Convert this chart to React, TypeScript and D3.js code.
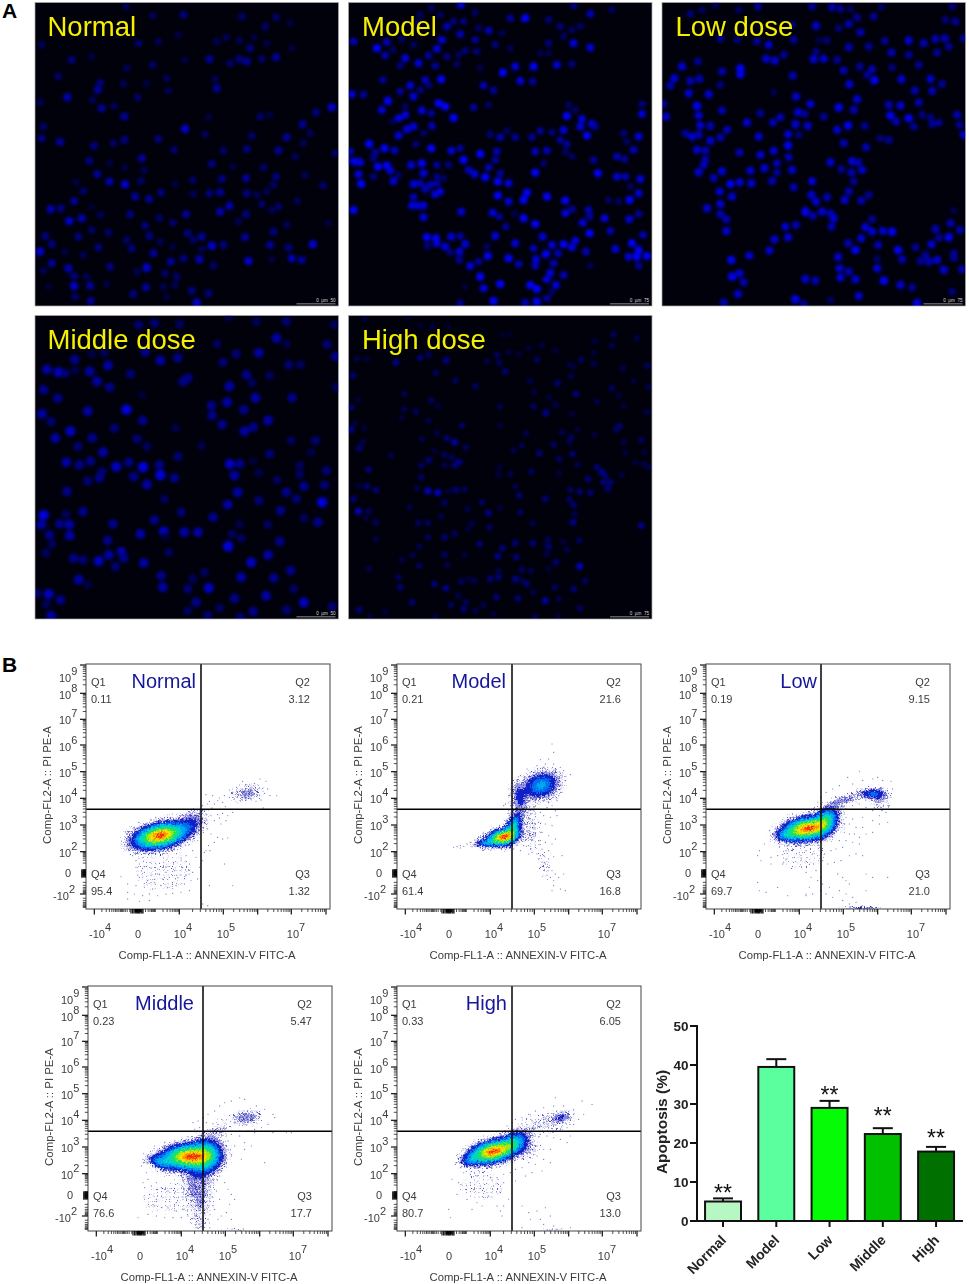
import React from "react";
import * as d3 from "d3";

type N = [number, number, number];
type P = [number, number];
type G = [number, number, number, number, number, number];

const FONT = "'Liberation Sans', Arial, sans-serif";

const normalNuclei: N[] = [[378,20,.5],[550,45,.7],[725,50,.6],[828,52,.6],[870,70,.4],[795,80,.6],[458,47,.5],[125,135,.5],[475,125,.5],[415,130,.6],[535,105,.4],[650,125,.5],[678,113,.5],[718,122,.5],[762,112,.4],[800,130,.4],[750,145,.7],[628,178,.8],[690,190,.6],[718,178,.7],[740,185,.8],[785,177,.6],[828,172,.8],[875,145,.4],[215,180,.7],[275,170,.4],[380,205,.5],[458,195,.6],[555,180,.4],[175,230,.6],[500,235,.5],[645,238,.5],[650,265,.8],[293,270,.8],[370,252,.5],[505,272,.5],[440,250,.4],[300,250,.7],[202,292,.9],[278,300,.5],[413,293,.6],[120,307,.5],[305,325,.8],[343,318,.5],[373,350,.8],[780,350,.6],[808,345,.4],[995,322,1],[948,337,.7],[625,352,.4],[130,380,.6],[555,387,1],[907,373,.8],[125,415,.7],[180,426,.8],[282,438,.7],[340,430,.6],[373,420,.7],[475,417,.7],[615,403,.5],[755,408,.6],[860,412,.8],[930,400,.5],[910,430,.5],[522,450,.6],[670,452,.6],[740,448,.7],[835,452,.8],[885,470,.5],[1005,460,.6],[425,475,.8],[268,483,.7],[328,490,.4],[635,492,.7],[698,500,.4],[790,503,.6],[432,510,.5],[375,503,.4],[292,522,.8],[228,547,.4],[328,545,.9],[375,553,1],[422,543,.6],[578,540,.6],[665,537,.7],[738,535,.8],[828,530,.7],[915,525,.5],[525,552,.4],[820,555,.6],[968,557,.6],[250,573,.6],[483,578,.7],[405,590,.8],[447,597,.8],[580,583,.5],[628,580,.7],[660,577,.8],[740,580,.7],[770,585,.5],[800,575,.5],[222,603,.8],[892,603,.5],[152,628,.9],[182,625,.7],[274,620,.3],[660,635,.9],[688,618,.9],[785,612,.6],[815,630,.5],[835,620,.6],[302,645,.5],[390,643,.7],[558,643,.8],[738,643,.7],[208,663,1],[245,655,.9],[478,655,.6],[518,668,.6],[715,665,.5],[985,670,.4],[435,677,.7],[860,675,.5],[136,708,.7],[235,710,.7],[325,698,.6],[380,720,.6],[275,690,.6],[448,708,.7],[563,700,.7],[605,710,.8],[820,695,.7],[735,712,.8],[155,732,.7],[395,745,.7],[480,725,.5],[295,742,.7],[635,737,1],[670,735,.7],[810,735,.8],[865,743,.7],[938,733,1],[120,755,1],[195,755,.4],[250,765,.5],[605,748,.5],[460,760,.8],[518,740,.4],[580,720,.6],[745,783,1],[875,775,.9],[905,780,.8],[598,778,.9],[550,775,.7],[512,785,.8],[155,790,.8],[205,805,.9],[330,800,.7],[440,803,1],[640,797,.6],[815,778,.4],[130,812,.5],[410,815,.5],[495,820,.6],[530,830,.6],[222,828,.7],[260,830,.5],[222,858,1],[270,857,.8],[320,853,.4],[438,862,.8],[490,860,.5],[575,872,.7],[525,855,.5],[625,880,.7],[145,860,.3],[225,890,.6],[400,882,.7],[272,903,.8],[590,908,1],[500,890,.4]];
const modelNuclei: N[] = [[347,15,.9],[258,25,.5],[225,45,.5],[285,45,.5],[390,38,.5],[540,55,1],[495,55,.7],[685,18,.6],[735,42,.8],[800,30,.5],[610,60,.6],[325,65,.6],[355,65,.6],[220,70,.5],[305,80,.8],[430,92,.8],[645,80,.6],[705,80,.5],[680,90,.5],[400,85,.5],[25,125,.8],[125,127,.8],[170,118,.5],[290,120,.9],[345,103,.8],[390,120,.7],[470,100,.4],[655,110,.5],[95,145,1],[143,150,.5],[205,135,.5],[275,147,.9],[395,155,.6],[360,152,.6],[450,135,.6],[495,145,.4],[610,130,.6],[685,130,.9],[735,143,.9],[120,167,.8],[180,175,.9],[250,167,.7],[305,170,.6],[340,165,.5],[585,160,.4],[610,160,.4],[165,197,.6],[220,190,.9],[270,198,.7],[335,193,.5],[565,200,1],[510,200,.9],[473,218,1],[635,195,.9],[680,193,.6],[405,205,.4],[525,243,.9],[562,245,.7],[240,240,.8],[288,238,1],[113,240,.7],[415,257,.8],[195,257,.9],[225,270,.6],[250,255,.6],[445,272,.7],[20,283,.9],[55,284,.7],[165,275,.7],[205,290,.9],[128,303,1],[280,310,1],[300,320,1],[890,312,.6],[110,330,.9],[385,323,.7],[430,315,.5],[180,320,.5],[230,332,.9],[670,315,.5],[690,330,.5],[665,348,1],[890,342,.9],[180,345,.9],[160,355,.9],[258,340,.7],[325,354,1],[710,357,.9],[140,365,.4],[260,378,.8],[205,380,.9],[185,388,.9],[705,380,.9],[740,372,.9],[750,380,.7],[485,393,.5],[435,403,.6],[465,412,.8],[510,412,.7],[560,412,.7],[585,393,.7],[620,397,.6],[160,407,.9],[235,400,.5],[725,407,1],[655,390,.9],[835,400,.6],[880,410,.9],[645,420,.7],[665,432,.7],[845,425,.5],[72,432,1],[212,433,.6],[118,445,1],[258,445,1],[148,452,.8],[90,458,.7],[318,452,.9],[345,445,.7],[405,462,1],[455,455,.8],[570,455,.8],[605,452,.8],[660,455,.5],[815,470,.8],[865,450,.8],[15,455,.8],[30,485,1],[5,482,.9],[45,487,.9],[85,475,.6],[355,480,1],[450,480,.7],[680,470,.5],[745,480,.7],[838,478,.7],[230,490,1],[198,495,.9],[275,495,.7],[310,495,.6],[98,500,1],[125,497,1],[135,512,.9],[430,503,.8],[595,490,.5],[370,510,.8],[235,520,.9],[570,518,1],[388,522,.9],[465,520,.7],[160,525,.5],[758,520,1],[815,530,.9],[840,530,.8],[420,532,1],[40,523,.9],[85,530,.6],[145,543,.9],[275,530,.6],[295,535,.5],[458,545,1],[490,550,.9],[885,537,.9],[48,552,1],[205,552,.9],[255,555,.8],[225,550,.8],[275,550,.7],[855,560,.5],[240,568,.8],[285,575,.9],[270,583,.9],[458,587,1],[545,578,1],[605,590,1],[880,580,.9],[205,592,.8],[535,600,1],[790,600,.5],[660,602,1],[853,600,1],[490,605,.9],[820,605,.5],[200,617,.9],[218,617,.9],[235,617,.9],[25,630,1],[348,635,.9],[442,638,.9],[680,628,.7],[730,630,.8],[880,642,.7],[660,640,.9],[235,652,.9],[462,650,.7],[535,655,1],[508,640,.4],[778,655,.9],[733,650,.7],[852,658,.9],[570,672,1],[712,668,.9],[482,680,.7],[733,700,1],[795,693,.8],[450,708,.9],[245,712,1],[272,715,1],[318,710,.9],[345,708,.7],[592,710,.9],[893,705,.8],[275,730,.9],[300,740,.9],[360,732,.9],[510,730,.9],[690,722,.9],[620,735,.9],[655,733,1],[680,742,.9],[860,730,1],[247,738,.6],[343,755,.9],[565,745,.8],[722,755,.8],[810,747,.9],[880,750,1],[315,757,.6],[425,740,.5],[602,762,1],[638,760,.8],[428,768,1],[490,775,1],[572,778,.9],[342,780,.7],[850,770,.9],[905,768,1],[875,770,1],[400,785,.7],[520,792,.8],[625,790,.8],[570,797,.8],[375,798,.9],[735,797,.4],[880,797,.7],[615,818,.9],[655,825,.8],[405,830,1],[605,838,.9],[465,852,1],[415,865,.9],[555,855,1],[632,855,.9],[360,860,.3],[575,867,1],[620,875,.5],[445,903,1],[575,905,1],[345,910,.7],[540,908,.8],[605,895,.7]];
const lowNuclei: N[] = [[170,15,.5],[298,20,.7],[460,20,.7],[520,22,.8],[545,27,.7],[575,28,.5],[668,22,.5],[880,20,.6],[95,42,.6],[130,30,.5],[240,30,.5],[645,50,.7],[595,53,.7],[860,60,.6],[890,65,.7],[472,78,.9],[570,72,.8],[540,85,.6],[400,75,.6],[605,97,.8],[185,115,.7],[505,122,.6],[235,120,.6],[295,125,.7],[405,120,.7],[480,120,.4],[678,123,.7],[750,122,.9],[795,130,.8],[830,117,.8],[858,115,.8],[915,115,.7],[330,135,.9],[570,142,.8],[630,140,.7],[870,140,.7],[375,165,.7],[472,155,.6],[698,158,.8],[750,165,.7],[835,158,.7],[322,177,.9],[348,182,.9],[465,178,.9],[495,177,.9],[535,180,.7],[118,185,.7],[780,195,.7],[70,200,.9],[603,200,.7],[700,203,.6],[190,215,.8],[245,205,1],[245,223,1],[555,212,.8],[640,208,.8],[625,225,.7],[402,228,.8],[47,235,.9],[122,237,.8],[95,243,.8],[728,238,.9],[815,237,.9],[647,241,1],[35,257,.8],[850,252,.7],[185,255,.6],[572,253,.9],[90,280,.9],[150,283,.9],[345,277,.4],[768,272,.8],[820,273,.8],[412,290,.9],[595,298,.9],[15,312,.7],[115,318,1],[455,312,.9],[540,323,1],[780,308,.8],[690,315,.8],[725,317,.9],[190,332,.8],[305,340,.7],[418,337,.9],[585,330,.8],[438,342,.7],[120,347,.9],[495,350,.7],[22,350,.9],[365,352,.8],[695,347,1],[750,355,1],[790,345,.6],[895,345,.8],[815,352,.6],[712,365,.8],[265,368,.9],[343,368,.8],[410,373,.9],[125,377,.9],[155,378,.8],[447,378,.9],[568,377,1],[618,378,.7],[820,372,.7],[840,368,.7],[903,375,.7],[765,380,.7],[535,390,.9],[80,400,.7],[100,410,.9],[120,405,.8],[205,390,.8],[388,403,.9],[300,410,.9],[420,405,.6],[915,405,.9],[185,413,.8],[155,423,.9],[665,415,.6],[690,420,.7],[555,430,.8],[388,437,1],[622,442,.8],[115,450,.9],[140,452,.8],[345,453,.9],[242,458,.8],[305,465,.9],[390,472,.8],[140,480,.8],[515,487,.9],[580,484,.9],[598,487,.8],[355,490,.8],[135,495,.8],[400,510,.9],[317,505,.9],[275,512,.9],[548,508,.7],[610,510,.9],[120,517,.9],[190,514,.9],[355,518,.7],[578,518,.8],[165,534,.8],[340,543,.8],[460,544,.9],[585,545,.7],[215,552,1],[243,547,.9],[278,550,.9],[405,562,.8],[183,575,.9],[570,575,.8],[220,590,.9],[458,585,.9],[505,592,.8],[630,585,.7],[558,600,.9],[608,602,.8],[185,612,.9],[472,605,.9],[145,625,.9],[440,635,1],[490,635,.9],[515,640,.8],[185,642,.8],[462,648,.8],[525,655,.9],[203,658,.8],[640,658,.7],[885,632,.4],[875,670,.8],[518,680,.8],[380,680,.9],[412,675,.8],[620,682,.9],[672,693,.9],[700,695,1],[640,695,.9],[830,687,.8],[903,690,.8],[203,693,.9],[347,718,.9],[388,712,.9],[607,715,.9],[870,712,1],[840,713,.7],[818,733,.9],[568,730,.8],[658,735,.8],[590,750,1],[332,752,.9],[718,750,1],[770,742,.7],[800,765,.7],[885,760,.7],[272,767,.9],[538,771,.9],[730,778,.8],[218,780,1],[835,780,.9],[810,785,.8],[785,783,.7],[655,777,.5],[885,773,.7],[543,805,.9],[655,805,.9],[570,815,.8],[855,810,.9],[910,808,.8],[243,820,.9],[220,830,1],[545,833,.9],[590,838,.9],[440,837,.9],[470,842,.8],[675,842,1],[255,847,.8],[725,855,.9],[760,862,.7],[238,882,.9],[600,888,.9],[880,875,.6],[410,898,1],[195,908,.8],[515,900,.5],[435,912,.7],[775,910,1]];
const middleNuclei: N[] = [[325,38,.6],[372,33,.6],[448,35,.5],[595,15,.4],[678,28,.5],[768,28,.6],[912,38,.5],[738,78,.8],[768,95,.4],[560,95,.5],[890,97,.6],[345,120,.7],[185,125,.4],[222,122,.5],[617,125,.6],[685,122,.8],[915,133,.7],[133,142,.7],[390,145,.8],[442,137,.7],[578,150,.6],[775,158,.6],[810,157,.5],[50,172,.8],[85,180,.9],[105,183,.6],[135,175,.4],[178,178,.8],[233,160,.8],[300,185,.6],[648,188,.7],[718,190,.5],[200,208,.8],[472,198,.7],[458,208,.7],[665,212,.5],[40,233,.7],[238,225,.7],[597,222,.8],[918,225,.5],[335,248,.3],[82,258,.7],[675,257,.8],[785,257,.7],[590,270,.8],[543,280,.7],[172,297,.8],[288,292,1],[640,293,.7],[35,305,.8],[545,310,.7],[62,328,.6],[337,325,.7],[713,325,.8],[575,337,.7],[252,348,.6],[435,348,.4],[668,345,.7],[120,357,.9],[642,357,.8],[186,377,.7],[75,378,.8],[320,380,.6],[782,385,.5],[855,385,.6],[143,403,.6],[350,403,.5],[513,400,.4],[218,420,.8],[842,420,.4],[718,425,.6],[443,433,.6],[108,450,.8],[180,447,.7],[295,450,.7],[147,458,.7],[258,463,.9],[338,464,1],[387,458,.7],[598,455,.9],[628,455,.7],[668,447,.3],[808,460,.5],[215,478,.6],[888,475,.6],[685,482,.4],[390,488,1],[310,493,.7],[207,497,.7],[432,497,.7],[612,490,.8],[808,487,.5],[172,507,.6],[350,517,.8],[740,503,.5],[882,518,.6],[820,522,.7],[110,538,.7],[622,540,.8],[768,540,.7],[402,560,.5],[685,565,.6],[798,560,.6],[875,570,1],[592,577,.8],[158,598,.7],[750,595,.7],[452,600,.6],[107,605,.5],[40,608,1],[548,615,.7],[820,617,.5],[372,623,.7],[33,637,.8],[88,635,.7],[117,637,.8],[248,635,.7],[628,635,.4],[712,637,.5],[862,630,.7],[400,657,.9],[462,660,.8],[503,660,.8],[330,665,.8],[57,668,.7],[118,670,.8],[605,665,.5],[632,678,.5],[405,675,.3],[232,685,.7],[748,688,.7],[65,695,.5],[593,702,1],[47,722,.5],[415,720,.5],[273,718,.8],[235,728,.8],[713,728,.8],[130,738,.7],[158,743,.6],[280,737,.7],[205,746,.9],[340,752,.8],[662,750,.9],[255,763,.6],[780,775,.7],[522,780,.5],[392,790,.7],[632,795,.8],[730,797,.7],[145,802,.8],[487,800,.5],[173,817,.4],[397,825,.8],[535,827,.9],[472,830,.6],[790,830,.5],[55,845,.9],[20,843,.6],[707,850,.8],[612,858,.7],[90,863,.7],[497,870,.7],[820,870,.9],[48,875,.5],[568,887,.5],[668,898,.7],[768,893,.6],[472,895,.5],[905,882,.6],[62,910,.8],[532,910,.6],[630,915,.6]];
const highNuclei: N[] = [[60,20,.4],[188,18,.3],[262,43,.4],[225,40,.3],[310,42,.3],[470,68,.3],[495,68,.3],[805,67,.6],[875,78,.5],[748,88,.4],[800,100,.5],[550,107,.4],[590,100,.4],[630,115,.4],[455,128,.6],[490,120,.4],[520,125,.4],[745,122,.4],[35,140,.5],[65,140,.4],[225,137,.7],[250,128,.6],[303,145,.8],[152,150,.8],[425,147,.5],[462,152,.6],[575,142,.6],[708,143,.6],[672,158,.4],[685,165,.4],[745,155,.5],[905,160,.6],[833,168,.5],[23,190,.7],[272,182,.6],[480,178,.7],[678,192,.5],[865,207,.4],[330,205,.6],[390,222,.6],[555,207,.5],[637,213,.7],[800,228,.6],[910,225,.5],[178,245,.5],[567,240,.4],[692,245,.7],[820,250,.4],[258,265,.6],[612,255,.4],[755,268,.5],[38,263,.4],[18,285,.7],[278,282,.4],[465,283,.5],[565,283,.6],[630,278,.5],[835,280,.4],[178,290,.5],[212,298,.6],[602,302,.8],[905,300,.5],[170,315,.4],[680,305,.4],[250,325,.5],[30,333,.4],[350,340,.6],[465,340,.4],[822,342,.7],[18,352,.8],[58,348,.4],[812,352,.6],[275,362,.5],[542,363,.5],[650,360,.5],[697,352,.4],[748,367,.4],[230,380,.5],[305,378,.7],[328,390,.9],[677,375,.6],[53,390,.5],[672,390,.5],[888,383,.6],[835,390,.5],[42,408,.7],[530,400,.5],[625,397,.6],[505,415,.5],[362,405,.6],[297,428,.6],[268,415,.4],[138,430,.5],[582,423,.7],[682,425,.7],[840,422,.4],[897,420,.4],[320,436,.6],[250,444,.7],[342,450,.8],[642,440,.6],[298,460,.5],[328,460,.7],[228,460,.6],[870,450,.4],[895,455,.4],[70,472,.7],[462,465,.4],[558,478,.6],[697,458,.5],[755,465,.7],[770,480,.8],[910,465,.5],[460,488,.4],[495,485,.5],[642,483,.4],[780,490,.7],[228,495,.6],[830,488,.4],[728,500,.7],[795,510,.7],[775,510,.7],[40,520,.4],[65,522,.7],[510,523,.5],[215,527,.5],[92,534,.7],[788,530,.7],[248,536,1],[278,541,1],[332,533,.7],[358,532,.6],[312,535,.4],[675,533,.6],[703,538,.7],[735,541,.7],[522,550,.7],[25,560,.7],[600,560,.7],[672,562,.6],[410,570,.6],[298,572,.6],[685,578,.7],[193,585,.5],[367,590,.5],[465,587,.4],[40,597,1],[70,597,.6],[430,602,.8],[525,600,.6],[688,605,.5],[288,613,.5],[62,618,.4],[92,630,.6],[220,632,.6],[248,632,.6],[380,633,.5],[563,633,.5],[683,630,.8],[888,640,.8],[368,650,.4],[433,645,.6],[328,665,.6],[248,675,.6],[298,675,.7],[92,680,.5],[608,683,.6],[655,688,.4],[702,685,.6],[403,695,.7],[510,692,.7],[563,693,.7],[610,703,.7],[222,703,.5],[472,708,.7],[665,712,.5],[202,728,.5],[298,727,.6],[358,728,.4],[458,732,.8],[513,735,.7],[170,742,.5],[605,725,.5],[632,750,.7],[222,760,.6],[307,758,.5],[703,762,1],[70,770,.5],[530,773,.6],[557,775,.5],[610,770,.4],[460,775,.5],[160,795,.6],[460,795,.7],[435,800,.7],[510,800,.8],[530,805,.5],[720,805,.6],[268,815,.7],[348,808,.6],[370,800,.4],[388,805,.5],[545,815,.7],[628,825,.6],[302,828,.8],[165,825,.7],[685,830,.7],[565,840,.5],[340,850,.5],[453,855,.7],[518,858,.7],[600,865,.9],[640,860,.5],[200,870,.7],[362,870,.6],[318,878,.6],[415,878,.5],[355,890,.7],[390,895,.5],[705,888,.6],[42,892,.7],[120,900,.4],[75,912,.4],[270,915,.5],[570,915,.6],[445,905,.4],[638,912,.4]];

const microNames = ["Normal", "Model", "Low dose", "Middle dose", "High dose"];
const microScaleLabels = ["0  µm  50", "0  µm  75", "0  µm  75", "0  µm  50", "0  µm  75"];
const microNuclei = [normalNuclei, modelNuclei, lowNuclei, middleNuclei, highNuclei];

// ---- Panel B: flow cytometry, events and population peaks in channel units ----
const normalEvents: P[] = [[522,345],[470,352],[505,358],[540,352],[452,370],[480,362],[495,370],[520,372],[545,375],[430,378],[440,385],[458,392],[470,378],[488,382],[505,390],[520,395],[535,388],[552,395],[572,395],[430,400],[445,405],[462,410],[478,402],[495,405],[510,412],[525,408],[415,395],[400,402],[380,395],[360,392],[395,410],[370,412],[350,425],[365,420],[385,420],[410,415],[418,428],[378,432],[355,438],[345,442],[532,432],[360,450],[375,455],[395,452],[410,448],[425,455],[440,445],[385,470],[405,480],[355,470],[352,490],[365,495],[400,462],[420,470],[375,510],[395,520],[410,525],[425,522],[385,535],[368,545],[360,560],[372,560],[415,600],[350,590],[355,565],[130,545],[128,560],[140,575],[150,590],[160,600],[175,608],[195,612],[215,615],[240,610],[262,600],[285,590],[300,575],[320,560],[335,530],[340,500],[340,470],[320,445],[300,450],[270,462],[240,472],[210,480],[180,490],[150,505],[135,525],[142,510],[165,495],[195,485],[225,475],[255,468],[285,455],[175,625],[195,635],[215,630],[240,625],[265,620],[290,610],[310,600],[330,580],[160,640],[185,650],[205,655],[230,645],[250,640],[275,640],[300,635],[320,625],[340,610],[125,660],[150,665],[175,670],[200,675],[225,665],[245,670],[270,665],[295,660],[315,650],[335,645],[125,685],[145,690],[170,695],[190,690],[215,695],[240,690],[260,688],[285,685],[310,680],[125,705],[160,712],[190,710],[370,665],[440,665],[350,720],[365,725],[385,735],[405,735],[345,700],[105,638]];
const modelEvents: P[] = [[170,550],[180,548],[190,545],[200,547],[210,540],[220,535],[232,528],[245,530],[225,548],[190,552],[240,540],[250,520],[465,240],[470,265],[455,285],[430,287],[445,300],[470,300],[490,310],[500,320],[520,332],[470,320],[440,310],[420,305],[495,335],[485,345],[505,350],[490,365],[495,385],[485,395],[470,400],[480,410],[455,415],[465,425],[475,440],[450,430],[390,315],[370,335],[360,350],[345,370],[335,395],[325,420],[335,440],[320,425],[340,425],[350,445],[370,440],[390,445],[410,440],[430,445],[375,455],[395,460],[415,458],[440,455],[460,460],[480,455],[365,475],[385,480],[405,478],[425,475],[445,480],[465,485],[375,500],[395,505],[415,510],[435,505],[455,515],[475,525],[385,520],[405,530],[425,530],[445,535],[465,540],[395,545],[415,550],[435,555],[455,560],[405,565],[420,570],[440,575],[455,585],[470,578],[495,575],[425,585],[435,595],[445,600],[455,610],[465,620],[475,630],[460,640],[470,650],[485,640],[470,665],[465,680],[490,675],[505,680],[500,630],[430,575],[380,545],[360,545],[350,555],[370,560],[395,570]];
const lowEvents: P[] = [[460,322],[425,340],[470,350],[500,345],[515,340],[530,350],[555,352],[440,360],[400,365],[380,375],[360,385],[345,400],[335,415],[325,430],[560,375],[555,400],[550,425],[540,445],[520,455],[500,440],[480,430],[460,420],[440,425],[420,435],[405,445],[385,445],[370,450],[420,460],[400,470],[440,465],[470,460],[500,470],[520,480],[545,475],[470,490],[450,490],[430,480],[445,510],[460,520],[480,510],[500,505],[430,510],[415,505],[400,530],[420,530],[440,535],[460,540],[410,550],[390,555],[375,560],[355,570],[335,575],[320,570],[300,560],[280,565],[260,555],[240,560],[220,550],[200,510],[190,500],[175,540],[160,560],[155,575],[165,590],[195,580],[215,575],[240,585],[265,580],[285,590],[195,600],[230,600],[350,590],[365,600],[385,595],[405,590],[430,575],[450,570],[470,575],[480,630],[500,640],[300,625],[315,640],[330,620],[345,640],[310,670],[320,690],[345,680],[300,690],[335,650],[350,660],[370,670],[395,630],[410,640],[420,650],[430,660],[400,680],[420,690],[440,700],[410,710],[380,700],[360,690],[155,655],[160,680],[180,685],[215,670],[245,695],[300,695],[545,640],[480,680],[430,720],[450,715],[470,725]];
const middleEvents: P[] = [[455,335],[470,340],[430,345],[410,350],[395,360],[380,375],[360,385],[345,395],[355,410],[330,405],[315,410],[335,425],[320,430],[555,385],[560,395],[530,370],[505,360],[540,415],[520,425],[500,440],[480,435],[455,435],[430,445],[420,465],[400,445],[375,440],[380,460],[405,470],[455,450],[470,470],[490,480],[470,490],[440,480],[420,490],[395,490],[530,530],[460,520],[430,510],[415,530],[405,520],[395,550],[380,560],[375,590],[395,570],[410,590],[420,610],[430,625],[440,640],[425,655],[395,640],[385,615],[400,690],[415,680],[380,670],[390,700],[360,700],[345,720],[365,725],[430,700],[180,580],[165,590],[170,605],[190,600],[205,590],[220,605],[240,615],[260,620],[185,625],[205,640],[225,635],[245,640],[265,650],[285,640],[200,660],[220,665],[240,665],[265,675],[285,670],[150,695],[180,685],[205,690],[230,695],[255,695],[280,695],[300,690],[300,620],[610,440],[595,440],[555,440],[500,430],[175,560],[160,540],[165,520],[200,480],[230,470],[260,465],[295,460],[320,455]];
const highEvents: P[] = [[475,335],[555,345],[585,355],[530,370],[500,360],[470,360],[440,365],[415,375],[395,385],[375,395],[355,400],[345,410],[560,385],[545,400],[530,415],[510,425],[490,430],[470,420],[450,415],[430,420],[410,430],[390,430],[370,425],[350,430],[330,420],[325,435],[440,395],[465,395],[510,395],[530,385],[405,405],[425,400],[385,445],[410,450],[430,445],[450,450],[470,455],[490,460],[510,470],[520,450],[400,470],[420,480],[440,490],[460,490],[400,500],[420,510],[440,520],[460,530],[415,535],[395,530],[380,520],[375,545],[355,550],[340,560],[320,565],[300,575],[280,575],[260,570],[240,570],[220,565],[200,560],[190,545],[175,535],[205,500],[235,480],[265,465],[295,455],[320,450],[345,445],[165,580],[185,590],[220,590],[250,600],[290,600],[320,590],[355,585],[385,570],[405,560],[435,555],[180,625],[210,640],[240,650],[275,630],[310,620],[335,640],[320,660],[300,660],[255,660],[225,670],[155,670],[160,695],[315,690],[310,675],[375,660],[395,680],[420,675],[445,665],[460,690],[430,700],[400,700],[440,715],[470,720],[520,725],[480,730],[375,725]];

// population peaks: centre x, centre y, spread x, spread y, tilt, height
const normalPeaks: G[] = [[220,513,40,20,-.35,1],[310,480,28,24,-.4,.1],[482,385,26,15,-.2,.06],[230,620,70,50,0,.016]];
const modelPeaks: G[] = [[315,518,24,13,-.3,1],[345,490,14,24,-.5,.4],[262,535,18,7,-.1,.2],[430,362,30,23,-.2,.26],[365,400,14,26,.2,.11],[395,490,24,42,.2,.03],[440,600,16,36,.6,.02]];
const lowPeaks: G[] = [[300,492,36,18,-.25,1],[355,470,21,23,-.4,.45],[240,512,20,10,-.2,.2],[497,387,24,9,0,.17],[415,405,24,10,-.5,.08],[520,405,16,18,0,.05],[290,575,65,32,-.2,.014],[465,731,35,2.5,0,.12]];
const middlePeaks: G[] = [[295,510,38,19,-.1,1],[350,510,27,27,-.1,.55],[215,525,20,12,.3,.25],[325,590,28,42,.2,.07],[335,680,16,44,0,.035],[230,640,70,45,0,.014],[475,393,24,13,-.2,.09],[390,430,28,26,-.5,.025],[440,731,25,2.5,0,.06]];
const highPeaks: G[] = [[285,495,35,18,-.35,1],[345,470,25,19,-.4,.35],[220,520,18,11,-.3,.18],[385,485,24,20,0,.04],[490,392,18,11,-.3,.09],[440,410,50,22,-.2,.025],[250,600,75,42,0,.012],[465,732,30,2.5,0,.06]];

const flowNames = ["Normal", "Model", "Low", "Middle", "High"];
const flowQ1 = ["0.11", "0.21", "0.19", "0.23", "0.33"];
const flowQ2 = ["3.12", "21.6", "9.15", "5.47", "6.05"];
const flowQ3 = ["1.32", "16.8", "21.0", "17.7", "13.0"];
const flowQ4 = ["95.4", "61.4", "69.7", "76.6", "80.7"];
const flowEvents = [normalEvents, modelEvents, lowEvents, middleEvents, highEvents];
const flowPeaks = [normalPeaks, modelPeaks, lowPeaks, middlePeaks, highPeaks];

const xTickLabels = [["-10", "4"], ["0", ""], ["10", "4"], ["10", "5"], ["10", "7"]];
const yTickLabels = [["10", "9"], ["10", "8"], ["10", "7"], ["10", "6"], ["10", "5"], ["10", "4"], ["10", "3"], ["10", "2"], ["0", ""], ["-10", "2"]];
const xMajorChannels = [25, 280, 412, 515, 616, 720];
const yMajorChannels = [3, 88, 166, 243, 323, 403, 483, 563, 690];

const densityLevels = [0.008, 0.02, 0.045, 0.085, 0.15, 0.22, 0.32, 0.46, 0.6, 0.74, 0.86, 0.95];
const densityColors = ["url(#faintDots)", "url(#sparseDots)", "url(#denseDots)", "#1020c8", "#0070f0", "#00a8f0", "#00d8c0", "#20e060", "#a0e810", "#f8e000", "#ff9000", "#f03010"];

// ---- Apoptosis bars ----
const barCategories = ["Normal", "Model", "Low", "Middle", "High"];
const barValues = [5, 39.5, 29, 22.3, 17.8];
const barErrors = [0.8, 2, 1.8, 1.5, 1.2];
const barColors = ["#b6f8c4", "#5cff9e", "#06fb06", "#00c000", "#007000"];
const barTicks = [0, 10, 20, 30, 40, 50];
const barStarLevels: (number | null)[] = [7.9, null, 33, 27.7, 22.1];

// ---- layout ----
const microFrames = [[35, 2.5], [348.5, 2.5], [662, 2.5], [35, 315.5], [348.5, 315.5]];
const microOrigins = [[105, 8], [10, 8], [10, 8], [14, 10], [10, 10]];
const microRadius = [3.9, 3.7, 3.9, 4.8, 3.2];
const microGain = [0.78, 1, 0.95, 0.85, 0.75];
const flowFrames = [[86, 664], [397, 664], [706, 664], [88, 986], [397, 986]];
const labelEnd = [110, 109, 111, 106, 110];

function Micrograph({ i }: { i: number }) {
  const [fx, fy] = microFrames[i];
  const [ox, oy] = microOrigins[i];
  const size = 303.5;
  const x = d3.scaleLinear().domain([ox, ox + 910]).range([0, size]);
  const y = d3.scaleLinear().domain([oy, oy + 910]).range([0, size]);
  const shade = d3.interpolateRgb("#000020", "#0000f4");
  return (
    <g transform={`translate(${fx},${fy})`}>
      <rect width={size} height={size} fill="#01010c" />
      <g clipPath="url(#microClip)">
        <g filter="url(#soft)">
          {microNuclei[i].map((n, k) => (
            <circle key={k} cx={x(n[0])} cy={y(n[1])} r={microRadius[i] * (0.78 + 0.32 * n[2])} fill={shade(Math.pow(n[2], 1.6) * microGain[i])} />
          ))}
        </g>
      </g>
      <rect width={size} height={size} fill="none" stroke="#a8a8a8" strokeWidth={0.7} />
      <g filter="url(#faint)">
        <text x={i === 0 || i === 3 ? 12.5 : 13.5} y={33.5} fontSize={27.5} fill="#f5f000" fontFamily={FONT}>{microNames[i]}</text>
      </g>
      <text x={size - 3} y={size - 4.5} fontSize={4.6} fill="#d8d8d8" textAnchor="end" fontFamily={FONT} xmlSpace="preserve">{microScaleLabels[i]}</text>
      <rect x={size - 42} y={size - 2.6} width={39} height={0.9} fill="#9a9a9a" />
    </g>
  );
}

function logTicks(a: number, b: number): number[] {
  return d3.range(2, 10).map((k) => a + Math.log10(k) * (b - a));
}

function FlowPlot({ i }: { i: number }) {
  const [fx, fy] = flowFrames[i];
  const W = 244, H = 245;
  const x = d3.scaleLinear().domain([0, 732]).range([0, W]);
  const y = d3.scaleLinear().domain([0, 735]).range([0, H]);

  const step = 4;
  const nx = Math.ceil(732 / step), ny = Math.ceil(735 / step);
  const vals = new Array(nx * ny).fill(0);
  for (let r = 0; r < ny; r++) for (let c = 0; c < nx; c++) {
    let s = 0;
    for (const [cx, cy, sx, sy, rho, h] of flowPeaks[i]) {
      const dx = (c * step - cx) / sx, dy = (r * step - cy) / sy;
      s += h * Math.exp(-(dx * dx - 2 * rho * dx * dy + dy * dy) / (2 * (1 - rho * rho)));
    }
    vals[r * nx + c] = s;
  }
  const peak = d3.max(vals) as number;
  const scaled = vals.map((v) => v / peak);
  const layers = d3.contours().size([nx, ny]).thresholds(densityLevels)(scaled);
  const path = d3.geoPath(d3.geoTransform({
    point(px: number, py: number) { (this as any).stream.point(x(px * step), y(py * step)); },
  }));

  const xMinor = [...logTicks(25, 100), ...logTicks(145, 100), ...logTicks(145, 152), ...logTicks(158, 152), ...logTicks(158, 165), ...logTicks(165, 210), ...logTicks(210, 280), ...logTicks(280, 412), ...logTicks(412, 515), ...logTicks(515, 616), ...logTicks(616, 720)];
  const yMinor = [...logTicks(88, 3), ...logTicks(166, 88), ...logTicks(243, 166), ...logTicks(323, 243), ...logTicks(403, 323), ...logTicks(483, 403), ...logTicks(563, 483), ...logTicks(612, 563), ...logTicks(612, 628), ...logTicks(640, 628), ...logTicks(640, 690), ...logTicks(690, 732)];
  const xZero = [135, 140, 144, 148, 152, 155, 158, 161, 165, 168, 171];
  const yZero = [618, 621, 624, 627, 630, 633, 636, 639];

  const xLabelPos = [14, 52, 97, 140, 210];
  const yLabelBase = [18, 35, 60, 87, 113, 139, 166, 193, 213, 236];
  const axis = "#222";
  const grey = "#3c3c3c";

  return (
    <g transform={`translate(${fx},${fy})`} fontFamily={FONT} filter="url(#faint)">
      <rect width={W} height={H} fill="#fff" />
      <g clipPath="url(#flowClip)">
        <g filter="url(#speckle)">
          {layers.map((l, k) => (
            <path key={k} d={path(l as any) || ""} fill={densityColors[k]} />
          ))}
        </g>
        {flowEvents[i].map((e, k) => (
          <rect key={k} x={x(e[0]) - 0.45} y={y(e[1]) - 0.45} width={0.95} height={0.95} fill={k % 3 === 0 ? "#5a5ab8" : "#2a2aa6"} opacity={0.85} />
        ))}
      </g>
      <line x1={x(345)} x2={x(345)} y1={0} y2={H} stroke="#000" strokeWidth={1.5} />
      <line x1={0} x2={W} y1={y(436)} y2={y(436)} stroke="#000" strokeWidth={1.5} />
      <rect width={W} height={H} fill="none" stroke="#444" strokeWidth={1} />

      {/* x axis */}
      {xMajorChannels.map((c) => <line key={c} x1={x(c)} x2={x(c)} y1={H} y2={H + 5.5} stroke={axis} strokeWidth={1.3} />)}
      {xMinor.map((c, k) => <line key={k} x1={x(c)} x2={x(c)} y1={H} y2={H + 3} stroke={axis} strokeWidth={0.8} />)}
      {xZero.map((c) => <line key={c} x1={x(c)} x2={x(c)} y1={H} y2={H + 4.5} stroke="#000" strokeWidth={1.1} />)}
      {xTickLabels.map((t, k) => (
        <text key={k} x={xLabelPos[k]} y={H + 29} textAnchor="middle" fontSize={11} fill={grey}>
          {t[0]}{t[1] && <tspan dy={-7.5} fontSize={11}>{t[1]}</tspan>}
        </text>
      ))}
      <text x={121} y={H + 49.5} textAnchor="middle" fontSize={11.3} fill={grey}>Comp-FL1-A :: ANNEXIN-V FITC-A</text>

      {/* y axis */}
      {yMajorChannels.map((c) => <line key={c} x1={-6} x2={0} y1={y(c)} y2={y(c)} stroke={axis} strokeWidth={1.3} />)}
      {yMinor.map((c, k) => <line key={k} x1={-3.2} x2={0} y1={y(c)} y2={y(c)} stroke={axis} strokeWidth={0.8} />)}
      {yZero.map((c) => <line key={c} x1={-5} x2={0} y1={y(c)} y2={y(c)} stroke="#000" strokeWidth={1.1} />)}
      {yTickLabels.map((t, k) => (
        <text key={k} x={t[0] === "-10" ? -33 : t[0] === "0" ? -21 : -27} y={yLabelBase[k]} fontSize={11} fill={grey}>
          {t[0]}{t[1] && <tspan dy={-7.5} fontSize={11}>{t[1]}</tspan>}
        </text>
      ))}
      <text transform={`translate(-35.5,121) rotate(-90)`} textAnchor="middle" fontSize={11.4} fill={grey}>Comp-FL2-A :: PI PE-A</text>

      {/* quadrants */}
      <text x={5} y={22} fontSize={11} fill={grey}>Q1</text>
      <text x={5} y={39} fontSize={11} fill={grey}>{flowQ1[i]}</text>
      <text x={224} y={22} fontSize={11} fill={grey} textAnchor="end">Q2</text>
      <text x={224} y={39} fontSize={11} fill={grey} textAnchor="end">{flowQ2[i]}</text>
      <text x={5} y={214} fontSize={11} fill={grey}>Q4</text>
      <text x={5} y={231} fontSize={11} fill={grey}>{flowQ4[i]}</text>
      <text x={224} y={214} fontSize={11} fill={grey} textAnchor="end">Q3</text>
      <text x={224} y={231} fontSize={11} fill={grey} textAnchor="end">{flowQ3[i]}</text>
      <text x={labelEnd[i]} y={24} fontSize={20} fill="#16169a" textAnchor="end">{flowNames[i]}</text>
    </g>
  );
}

function BarPanel() {
  const x = d3.scaleBand<string>().domain(barCategories).range([696.4, 962.7]).paddingInner(0.325).paddingOuter(0.1625);
  const y = d3.scaleLinear().domain([0, 50]).range([1221, 1026]);
  const ink = "#111";
  return (
    <g fontFamily={FONT} filter="url(#faint)">
      {barCategories.map((c, i) => {
        const bx = x(c) as number, cx = bx + x.bandwidth() / 2;
        const top = y(barValues[i] + barErrors[i]);
        const star = barStarLevels[i];
        return (
          <g key={c}>
            <line x1={cx} x2={cx} y1={y(barValues[i])} y2={top} stroke={ink} strokeWidth={2} />
            <line x1={cx - 10} x2={cx + 10} y1={top} y2={top} stroke={ink} strokeWidth={2} />
            <rect x={bx} y={y(barValues[i])} width={x.bandwidth()} height={y(0) - y(barValues[i])} fill={barColors[i]} stroke={ink} strokeWidth={2} />
            {star !== null && (
              <text x={cx} y={y(star) + 11} textAnchor="middle" fontSize={23} fill={ink}>**</text>
            )}
            <line x1={cx} x2={cx} y1={1221} y2={1227} stroke={ink} strokeWidth={2} />
            <text transform={`translate(${cx + 4},1241) rotate(-45)`} textAnchor="end" fontSize={14} fontWeight="bold" fill="#222">{c}</text>
          </g>
        );
      })}
      <line x1={697} x2={697} y1={1025} y2={1222} stroke={ink} strokeWidth={2} />
      <line x1={690} x2={963} y1={1221} y2={1221} stroke={ink} strokeWidth={2} />
      {barTicks.map((t) => (
        <g key={t}>
          <line x1={690} x2={697} y1={y(t)} y2={y(t)} stroke={ink} strokeWidth={2} />
          <text x={688.5} y={y(t) + 5} textAnchor="end" fontSize={13.5} fontWeight="bold" fill="#222">{t}</text>
        </g>
      ))}
      <text transform="translate(667,1122) rotate(-90)" textAnchor="middle" fontSize={15.5} fontWeight="bold" fill="#222">Apoptosis (%)</text>
    </g>
  );
}

export default function App() {
  return (
    <svg width={969} height={1284} viewBox="0 0 969 1284" style={{ position: "absolute", left: 0, top: 0, display: "block", background: "#fff" }}>
      <defs>
        <clipPath id="microClip"><rect width={303.5} height={303.5} /></clipPath>
        <clipPath id="flowClip"><rect width={244} height={245} /></clipPath>
        <filter id="soft" x="-5%" y="-5%" width="110%" height="110%" colorInterpolationFilters="sRGB"><feGaussianBlur stdDeviation={1.4} /></filter>
        <filter id="faint" x="-5%" y="-5%" width="110%" height="110%" colorInterpolationFilters="sRGB"><feGaussianBlur stdDeviation={0.3} /></filter>
        <filter id="speckle" x="-5%" y="-5%" width="110%" height="110%" colorInterpolationFilters="sRGB">
          <feTurbulence type="fractalNoise" baseFrequency={0.55} numOctaves={2} seed={4} result="n" />
          <feDisplacementMap in="SourceGraphic" in2="n" scale={7} xChannelSelector="R" yChannelSelector="G" />
        </filter>
        <pattern id="faintDots" width={4.3} height={4.3} patternUnits="userSpaceOnUse"><rect width={1} height={1} fill="#3a3ab0" /></pattern>
        <pattern id="sparseDots" width={2.7} height={2.7} patternUnits="userSpaceOnUse"><rect width={1} height={1} fill="#2828b0" /></pattern>
        <pattern id="denseDots" width={1.6} height={1.6} patternUnits="userSpaceOnUse"><rect width={1} height={1} fill="#1414b8" /></pattern>
      </defs>
      <rect width={969} height={1284} fill="#fff" />
      <text x={2} y={18} fontSize={21} fontWeight="bold" fontFamily={FONT} fill="#000">A</text>
      <text x={2} y={672} fontSize={21} fontWeight="bold" fontFamily={FONT} fill="#000">B</text>
      {microNames.map((_, i) => <Micrograph key={i} i={i} />)}
      {flowNames.map((_, i) => <FlowPlot key={i} i={i} />)}
      <BarPanel />
    </svg>
  );
}
